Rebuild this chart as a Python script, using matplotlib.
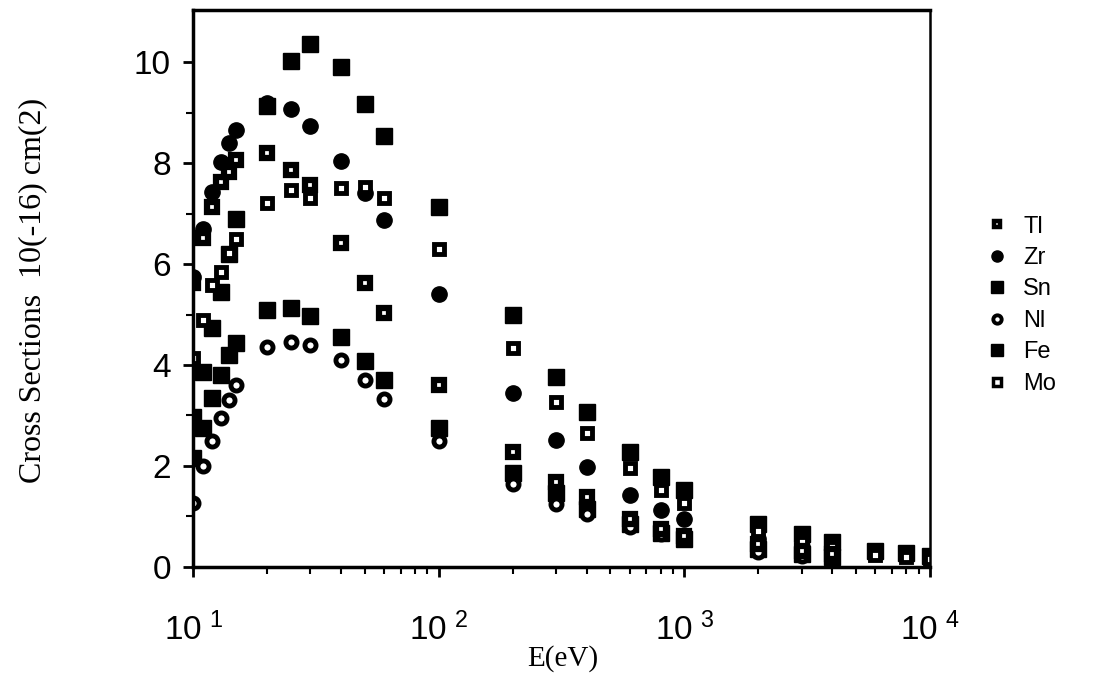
import numpy as np
import matplotlib.pyplot as plt
from matplotlib.lines import Line2D

plt.rcParams['font.family'] = ['Liberation Sans', 'DejaVu Sans']
plt.rcParams['mathtext.fontset'] = 'custom'
plt.rcParams['mathtext.rm'] = 'Liberation Sans'

# energies (eV)
e_all = [10, 11, 12, 13, 14, 15, 20, 25, 30, 40, 50, 60, 100, 200, 300, 400,
         600, 800, 1000, 2000, 3000, 4000, 6000, 8000, 10000]
e_low = e_all[:22]

# cross sections, 10^-16 cm^2
sn = [2.97, 3.86, 4.73, 5.45, 6.2, 6.9, 9.13, 10.02, 10.36, 9.9, 9.17, 8.53, 7.13,
      4.99, 3.76, 3.07, 2.28, 1.78, 1.52, 0.85, 0.65, 0.5, 0.32, 0.28, 0.22]
mo = [4.14, 4.9, 5.58, 5.84, 6.21, 6.5, 7.2, 7.46, 7.3, 7.5, 7.52, 7.3, 6.3,
      4.34, 3.27, 2.65, 1.96, 1.52, 1.27, 0.72, 0.5, 0.4, 0.24, 0.2, 0.15]
zr = [5.74, 6.7, 7.43, 8.02, 8.4, 8.65, 9.18, 9.07, 8.73, 8.04, 7.4, 6.87, 5.4,
      3.44, 2.51, 1.98, 1.43, 1.13, 0.95, 0.55, 0.4, 0.3]
tl = [5.62, 6.51, 7.13, 7.62, 7.82, 8.06, 8.2, 7.86, 7.56, 6.41, 5.62, 5.03, 3.6,
      2.28, 1.68, 1.39, 0.95, 0.75, 0.62, 0.45, 0.32, 0.25]
fe = [2.15, 2.75, 3.35, 3.8, 4.2, 4.43, 5.08, 5.13, 4.98, 4.55, 4.07, 3.7, 2.75,
      1.86, 1.46, 1.15, 0.85, 0.68, 0.55, 0.35, 0.25, 0.2]
ni = [1.27, 2.0, 2.5, 2.95, 3.3, 3.6, 4.35, 4.45, 4.4, 4.1, 3.7, 3.33, 2.5,
      1.65, 1.25, 1.05, 0.8, 0.65, 0.55, 0.3, 0.22, 0.18]

fig = plt.figure(figsize=(10.99, 6.87), dpi=100)
ax = fig.add_axes([0.1756, 0.1747, 0.6706, 0.8107])

ax.plot(e_all, sn, 's', color='k', ms=11, mec='k', ls='none')
ax.plot(e_low, fe, 's', color='k', ms=11, mec='k', ls='none')
ax.plot(e_low, zr, 'o', color='k', ms=11, mec='k', ls='none')
ax.plot(e_low, ni, 'o', mfc='white', mec='k', ms=8, mew=3.5, ls='none')
ax.plot(e_all, mo, 's', mfc='white', mec='k', ms=7.5, mew=3.5, ls='none')
ax.plot(e_low, tl, 's', mfc='white', mec='k', ms=6.5, mew=4.5, ls='none')

ax.set_xscale('log')
ax.set_xlim(10, 10000)
ax.set_ylim(0, 11.03)

ax.set_xticks([10, 100, 1000, 10000])
ax.set_xticklabels([r'$\mathregular{10^{\ 1}}$', r'$\mathregular{10^{\ 2}}$',
                    r'$\mathregular{10^{\ 3}}$', r'$\mathregular{10^{\ 4}}$'], fontsize=24)
ax.set_yticks([0, 2, 4, 6, 8, 10])
ax.set_yticks([1, 3, 5, 7, 9], minor=True)
ax.tick_params(axis='y', labelsize=24, pad=9)
ax.tick_params(axis='x', which='major', pad=26)
ax.tick_params(which='major', direction='out', length=7, width=2)
ax.tick_params(which='minor', direction='out', length=5, width=1.5)

for s in ax.spines.values():
    s.set_linewidth(2.5)
ax.spines['right'].set_linewidth(1.8)

ax.set_xlabel('E(eV)', family='Liberation Serif', fontsize=21)
ax.xaxis.set_label_coords(0.502, -0.14)
ax.set_ylabel('Cross Sections  10(-16) cm(2)', family='Liberation Serif', fontsize=23)
ax.yaxis.set_label_coords(-0.198, 0.497)

# smaller legend markers, like the original key
handles = [
    Line2D([], [], marker='s', ls='none', mfc='white', mec='k', ms=5, mew=3.2),
    Line2D([], [], marker='o', ls='none', color='k', ms=8),
    Line2D([], [], marker='s', ls='none', color='k', ms=8),
    Line2D([], [], marker='o', ls='none', mfc='white', mec='k', ms=6, mew=2.8),
    Line2D([], [], marker='s', ls='none', color='k', ms=8),
    Line2D([], [], marker='s', ls='none', mfc='white', mec='k', ms=5.5, mew=2.5),
]
ax.legend(handles, ['Tl', 'Zr', 'Sn', 'Nl', 'Fe', 'Mo'],
          loc='center left', bbox_to_anchor=(1.043, 0.47), frameon=False,
          fontsize=17, handlelength=1.2, handletextpad=0.5, labelspacing=0.4)

fig.savefig('out.png', dpi=100)
